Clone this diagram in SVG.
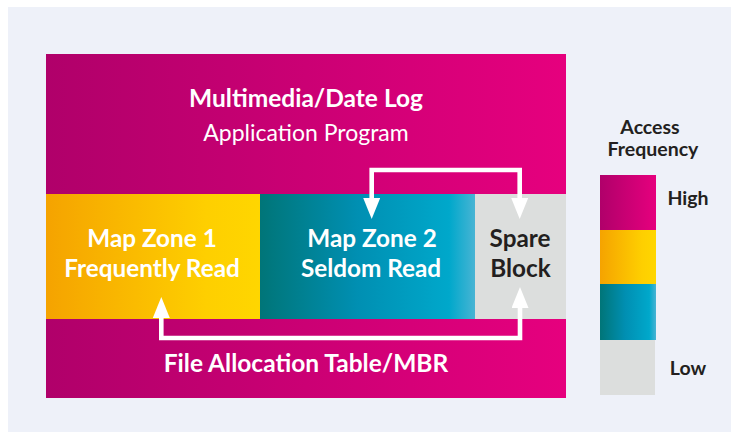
<svg xmlns="http://www.w3.org/2000/svg" width="731" height="432" viewBox="0 0 731 432">
<defs>
<linearGradient id="pink" x1="0" y1="0" x2="1" y2="0">
<stop offset="0" stop-color="#b0006a"/><stop offset="1" stop-color="#e6007e"/>
</linearGradient>
<linearGradient id="yellow" x1="0" y1="0" x2="1" y2="0">
<stop offset="0" stop-color="#f5a300"/><stop offset="0.75" stop-color="#fecf00"/><stop offset="1" stop-color="#ffd600"/>
</linearGradient>
<linearGradient id="teal" x1="0" y1="0" x2="1" y2="0">
<stop offset="0" stop-color="#007578"/><stop offset="0.45" stop-color="#008fb2"/><stop offset="0.88" stop-color="#00a8cb"/><stop offset="1" stop-color="#48b4d4"/>
</linearGradient>
<marker id="ah" viewBox="0 0 21 17" refX="0" refY="8.5" markerWidth="21" markerHeight="17" markerUnits="userSpaceOnUse" orient="auto-start-reverse">
<path d="M0,0 L21,8.5 L0,17 Z" fill="#fff"/>
</marker>
<style>
.w{fill:#fff;font-family:Lato,"Liberation Sans",sans-serif;text-anchor:middle}
.b{font-weight:bold}
.d{fill:#231f20;font-family:Lato,"Liberation Sans",sans-serif;font-weight:bold;text-anchor:middle}
.con{fill:none;stroke:#fff;stroke-width:4.6}
</style>
</defs>
<rect x="0" y="0" width="731" height="432" fill="#fff"/>
<rect x="8" y="7" width="723" height="425" fill="#eef1f9"/>
<g id="top">
<rect x="46" y="54" width="520" height="140" fill="url(#pink)"/>
<text class="w b" x="306" y="107" font-size="24.5">Multimedia/Date Log</text>
<text class="w" x="306" y="141" font-size="23">Application Program</text>
</g>
<g id="fat">
<rect x="46" y="319" width="520" height="79" fill="url(#pink)"/>
<text class="w b" x="306" y="372" font-size="24.5">File Allocation Table/MBR</text>
</g>
<g id="zone1">
<rect x="46" y="194" width="214" height="125" fill="url(#yellow)"/>
<text class="w b" x="152" y="247" font-size="24.3">Map Zone 1</text>
<text class="w b" x="152" y="277" font-size="24.3">Frequently Read</text>
</g>
<g id="zone2">
<rect x="260" y="194" width="215" height="125" fill="url(#teal)"/>
<text class="w b" x="372" y="247" font-size="24.3">Map Zone 2</text>
<text class="w b" x="371" y="277" font-size="24.3">Seldom Read</text>
</g>
<g id="spare">
<rect x="475" y="194" width="91" height="125" fill="#dcdedd"/>
<text class="d" x="520" y="247" font-size="24.3">Spare</text>
<text class="d" x="520.5" y="277" font-size="24.3">Block</text>
</g>
<g id="connectors">
<path class="con" d="M519.7,198 V170 H371.7 V198" marker-start="url(#ah)" marker-end="url(#ah)"/>
<path class="con" d="M161.3,318 V338 H520 V308" marker-start="url(#ah)" marker-end="url(#ah)"/>
</g>
<g id="legend">
<text class="d" x="650" y="134" font-size="19.5">Access</text>
<text class="d" x="653" y="156" font-size="19.5">Frequency</text>
<rect x="600" y="175" width="56" height="55" fill="url(#pink)"/>
<rect x="600" y="230" width="56" height="54" fill="url(#yellow)"/>
<rect x="600" y="284" width="56" height="56" fill="url(#teal)"/>
<rect x="600" y="340" width="55" height="55" fill="#dcdedd"/>
<text class="d" x="688" y="205" font-size="19.5">High</text>
<text class="d" x="688" y="375" font-size="19.5">Low</text>
</g>
</svg>
